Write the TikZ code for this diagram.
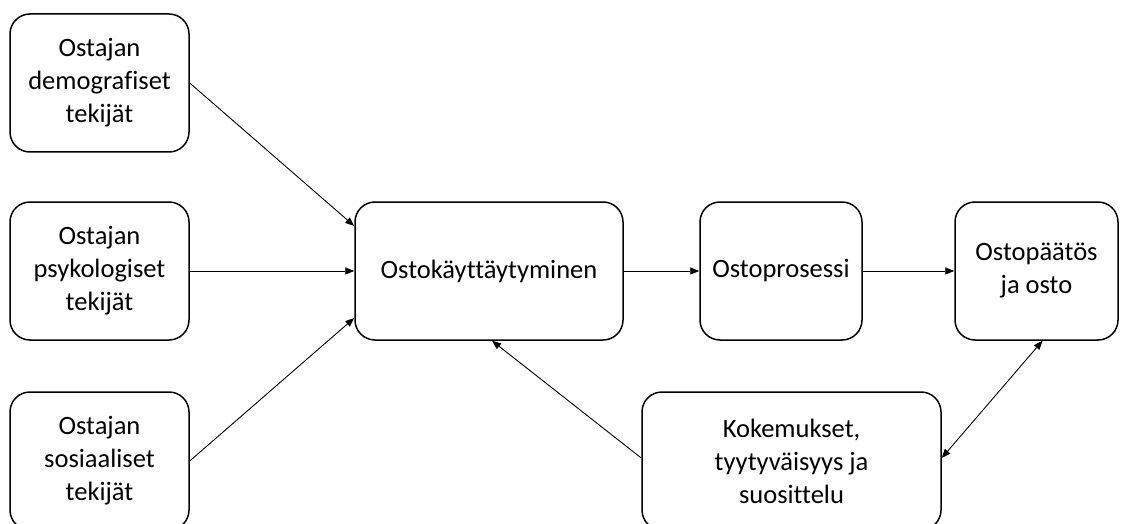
\documentclass[tikz,border=0pt]{standalone}
\usepackage{fontspec}
\setmainfont[Ligatures={NoCommon}]{Carlito}
\usetikzlibrary{arrows.meta}
\begin{document}
\begin{tikzpicture}[x=1pt,y=-1pt,
  box/.style={draw=black,line width=1.5pt,rounded corners=20pt,align=center,
    inner sep=0pt,font=\fontsize{26.5}{33}\selectfont,fill=white},
  conn/.style={line width=0.9pt,-{Triangle[length=9pt,width=7pt]}},
  dconn/.style={line width=0.9pt,{Triangle[length=9pt,width=7pt]}-{Triangle[length=9pt,width=7pt]}}]
\useasboundingbox (0,0) rectangle (1125,524);
\clip (0,0) rectangle (1125,524);
\node[box,minimum width=179pt,minimum height=138pt] (b1) at (99.5,83) {Ostajan\\demografiset\\tekijät};
\node[box,minimum width=179pt,minimum height=138pt] (b2) at (99.5,271) {Ostajan\\psykologiset\\tekijät};
\node[box,minimum width=179pt,minimum height=138pt] (b3) at (99.5,461) {Ostajan\\sosiaaliset\\tekijät};
\node[box,minimum width=268pt,minimum height=138pt] (c) at (489,271) {Ostokäyttäytyminen};
\node[box,minimum width=162pt,minimum height=138pt] (p) at (781,271) {Ostoprosessi};
\node[box,minimum width=163pt,minimum height=138pt] (o) at (1036.5,271) {Ostopäätös\\ja osto};
\node[box,minimum width=299pt,minimum height=138pt] (k) at (791.5,461) {Kokemukset,\\tyytyväisyys ja\\suosittelu};
\draw[conn] (b1.east) -- ([yshift=45pt]c.west);
\draw[conn] (b2.east) -- (c.west);
\draw[conn] (b3.east) -- ([yshift=-47pt]c.west);
\draw[conn] (c.east) -- (p.west);
\draw[conn] (p.east) -- (o.west);
\draw[conn] ([yshift=3pt]k.west) -- ([xshift=3pt]c.south);
\draw[dconn] ([xshift=6pt]o.south) -- ([yshift=3pt]k.east);
\end{tikzpicture}
\end{document}
